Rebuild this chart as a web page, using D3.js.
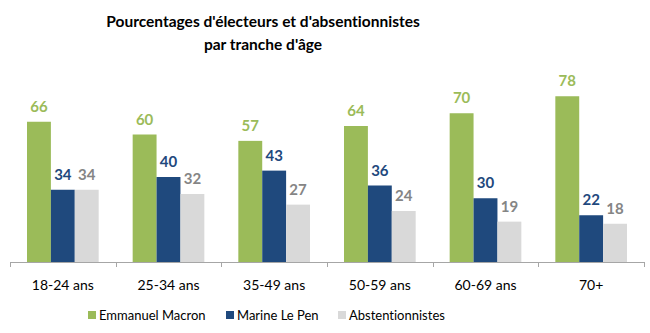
<!DOCTYPE html>
<html><head><meta charset="utf-8">
<script src="https://cdn.jsdelivr.net/npm/d3@7"></script>
<style>body{margin:0;background:#fff}svg{display:block}text{font-variant-ligatures:none;font-feature-settings:"liga" 0}</style>
</head><body>
<script>
const categories = ["18-24 ans","25-34 ans","35-49 ans","50-59 ans","60-69 ans","70+"];
const seriesNames = ["Emmanuel Macron","Marine Le Pen","Abstentionnistes"];
const macron = [66,60,57,64,70,78];
const lepen = [34,40,43,36,30,22];
const abst = [34,32,27,24,19,18];
const titleLines = ["Pourcentages d'électeurs et d'absentionnistes","par tranche d'âge"];

const barColors = ["#9BBB59","#1F497D","#D9D9D9"];
const labelColors = ["#9BBB59","#1F497D","#858585"];
const seriesVals = [macron, lepen, abst];
const font = "Lato, 'Open Sans', sans-serif";

const W = 650, H = 333;
const svg = d3.select("body").append("svg").attr("width", W).attr("height", H);

svg.append("g").selectAll("text").data(titleLines).join("text")
  .attr("x", 263).attr("y", (d,i) => 27 + i*23)
  .attr("text-anchor","middle").attr("font-family", font)
  .attr("font-weight","bold").attr("font-size", 15.5).attr("fill","#000")
  .text(d => d);

const x0 = d3.scaleBand().domain(categories).range([10, 644]).paddingInner(0).paddingOuter(0);
const x1 = d3.scaleBand().domain(seriesNames).range([17, x0.bandwidth()-17]).padding(0);
const y = d3.scaleLinear().domain([0,100]).range([262, 49.5]);

const groups = svg.append("g").selectAll("g").data(categories).join("g")
  .attr("transform", d => `translate(${x0(d)},0)`);

seriesNames.forEach((s, si) => {
  groups.append("rect")
    .attr("x", x1(s)).attr("width", x1.bandwidth())
    .attr("y", (d,i) => y(seriesVals[si][i]))
    .attr("height", (d,i) => y(0) - y(seriesVals[si][i]))
    .attr("fill", barColors[si]);
  groups.append("text")
    .attr("x", x1(s) + x1.bandwidth()/2)
    .attr("y", (d,i) => y(seriesVals[si][i]) - 10)
    .attr("text-anchor","middle").attr("font-family", font)
    .attr("font-weight","bold").attr("font-size", 15)
    .attr("fill", labelColors[si])
    .text((d,i) => seriesVals[si][i]);
});

// axis
const ax = svg.append("g");
ax.append("line").attr("x1",10).attr("x2",644).attr("y1",262.5).attr("y2",262.5)
  .attr("stroke","#A6A6A6").attr("stroke-width",1);
const bounds = categories.map(c => x0(c)).concat([x0.range()[1]]);
ax.selectAll("line.t").data(bounds).join("line").attr("class","t")
  .attr("x1", d => Math.round(d)+0.5).attr("x2", d => Math.round(d)+0.5)
  .attr("y1",262).attr("y2",267).attr("stroke","#A6A6A6");
ax.selectAll("text").data(categories).join("text")
  .attr("x", d => x0(d) + x0.bandwidth()/2).attr("y", 290)
  .attr("text-anchor","middle").attr("font-family", font)
  .attr("font-size", 14).attr("fill","#000").text(d => d);

// legend
const legX = [88, 226, 338];
const leg = svg.append("g").selectAll("g").data(seriesNames).join("g")
  .attr("transform", (d,i) => `translate(${legX[i]},0)`);
leg.append("rect").attr("x",0).attr("y",311).attr("width",8).attr("height",8)
  .attr("fill", (d,i) => barColors[i]);
leg.append("text").attr("x", 11).attr("y", 320)
  .attr("font-family", font).attr("font-size", 13).attr("fill","#000").text(d => d);
</script>
</body></html>
